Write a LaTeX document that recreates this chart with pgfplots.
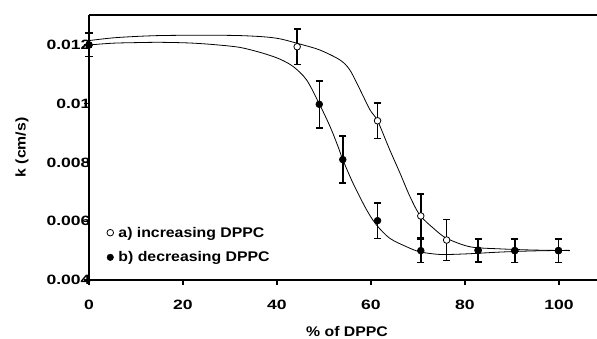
\documentclass[border=0pt]{standalone}
\usepackage{pgfplots}
\pgfplotsset{compat=1.18}
\usepackage{pgfplotstable}
\usepackage{fontspec}
\newfontfamily\tickf{Liberation Sans}[UprightFont=* Bold, FakeStretch=1.3]
\newfontfamily\labf{Liberation Sans}[UprightFont=* Bold, FakeStretch=1.13]
\newcommand\tfont{\tickf\fontsize{13.5bp}{16bp}\selectfont}
\newcommand\lfont{\labf\fontsize{14bp}{17bp}\selectfont}

\pgfplotstableread{
x y e
0 0.01200 0.0004
44.3 0.01194 0.0006
61.4 0.00942 0.0006
70.6 0.00618 0.00075
76.1 0.00536 0.0007
82.8 0.00500 0.0004
90.6 0.00500 0.0004
99.9 0.00500 0.0004
}\dataA

\pgfplotstableread{
x y e
0 0.01200 0.0004
49.0 0.00998 0.0008
54.0 0.00810 0.0008
61.4 0.00602 0.0006
70.6 0.00500 0.0004
82.8 0.00502 0.0004
90.6 0.00500 0.0004
99.9 0.00500 0.0004
}\dataB

\pgfplotstableread{
x y
0 0.01215
5 0.01224
10 0.01229
15 0.01232
21 0.01233
27 0.01233
32 0.01232
37 0.01228
40.6 0.01221
44.9 0.01203
49.1 0.01183
53.4 0.01149
55.5 0.01115
57.7 0.01047
59.8 0.00979
61.4 0.00942
64.0 0.00843
66.2 0.00763
68.3 0.00684
70.4 0.00621
73.3 0.00576
76.1 0.00542
81.1 0.00513
87.4 0.00506
94.5 0.00502
102.3 0.00500
}\curveA

\pgfplotstableread{
x y
0 0.01200
5 0.01206
10 0.01208
15 0.01209
21 0.01207
26 0.01202
32 0.01192
37 0.01172
40.6 0.01152
43.5 0.01126
46.3 0.01081
49.0 0.01000
51.3 0.00922
53.0 0.00854
54.0 0.00810
56.2 0.00729
59.1 0.00638
61.2 0.00587
64.0 0.00542
67.6 0.00513
70.4 0.00496
74.7 0.00487
80.4 0.00489
87.4 0.00495
94.5 0.00499
102.3 0.00501
}\curveB

\begin{document}
\begin{tikzpicture}
\useasboundingbox (-89bp,-59bp) rectangle (508bp,280bp);
\begin{axis}[
  at={(0,0)}, anchor=south west,
  scale only axis, width=508bp, height=265bp,
  xmin=0, xmax=108.1, ymin=0.004, ymax=0.01302,
  axis x line*=box, axis y line*=left,
  xtick={0,20,40,60,80,100}, xticklabels={0,20,40,60,80,100},
  ytick={0.004,0.006,0.008,0.01,0.012},
  yticklabels={0.004,0.006,0.008,0.01,0.012},
  xtick pos=bottom, ytick pos=left,
  tick align=outside, major tick length=5bp,
  every tick/.style={black, line width=1.2bp},
  axis line style={line width=2.5bp, -},
  ticklabel style={font=\tfont},
  xticklabel style={yshift=-12bp},
  yticklabel style={xshift=10bp},
  scaled y ticks=false,
  xlabel={\% of DPPC}, ylabel={k (cm/s)},
  label style={font=\lfont},
  xlabel style={at={(axis description cs:0.508,-0.212)}, anchor=base},
  ylabel style={at={(axis description cs:-0.132,0.5)}, anchor=center},
  clip=false,
  legend style={draw=none, fill=none, at={(axis description cs:0.035,0.205)},
    anchor=north west, font=\lfont, row sep=11bp, inner sep=0pt,
    nodes={inner sep=1bp}},
  legend cell align=left,
  legend image code/.code={\draw[#1] plot coordinates {(3bp,0bp)};\path (10bp,0bp);},
  errcap/.style={only marks, mark=-, mark size=3.6bp, forget plot,
    mark options={line width=1.5bp, black}},
]
\addplot[black, line width=0.8bp, smooth, forget plot] table[x=x,y=y] {\curveA};
\addplot[black, line width=0.8bp, smooth, forget plot] table[x=x,y=y] {\curveB};

% series a: error bars, caps, marks
\addplot[only marks, mark=none, forget plot,
  error bars/.cd, y dir=both, y explicit, error mark=none,
  error bar style={line width=1.5bp, black}]
  table[x=x, y=y, y error=e] {\dataA};
\addplot[errcap] table[x=x, y expr=\thisrow{y}+\thisrow{e}] {\dataA};
\addplot[errcap] table[x=x, y expr=\thisrow{y}-\thisrow{e}] {\dataA};
\addplot[only marks, mark=*, mark size=3.3bp, forget plot,
  mark options={fill=white, draw=black, line width=0.8bp}]
  table[x=x, y=y] {\dataA};

% series b: error bars, caps, marks
\addplot[only marks, mark=none, forget plot,
  error bars/.cd, y dir=both, y explicit, error mark=none,
  error bar style={line width=1.5bp, black}]
  table[x=x, y=y, y error=e] {\dataB};
\addplot[errcap] table[x=x, y expr=\thisrow{y}+\thisrow{e}] {\dataB};
\addplot[errcap] table[x=x, y expr=\thisrow{y}-\thisrow{e}] {\dataB};
\addplot[only marks, mark=*, mark size=3.3bp, forget plot,
  mark options={fill=black, draw=black, line width=0.8bp}]
  table[x=x, y=y] {\dataB};

\addlegendimage{only marks, mark=*, mark size=3.3bp, mark options={fill=white, draw=black, line width=0.8bp}}
\addlegendentry{a) increasing DPPC}
\addlegendimage{only marks, mark=*, mark size=3.3bp, mark options={fill=black, draw=black}}
\addlegendentry{b) decreasing DPPC}
\end{axis}
\end{tikzpicture}
\end{document}
